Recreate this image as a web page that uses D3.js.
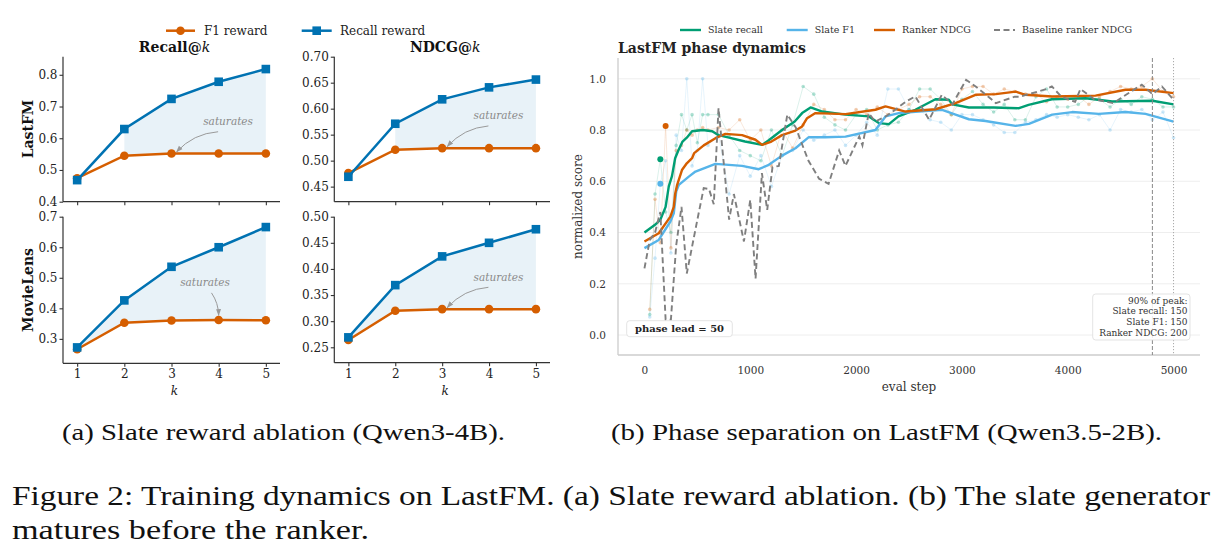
<!DOCTYPE html>
<html>
<head>
<meta charset="utf-8">
<script src="https://cdn.jsdelivr.net/npm/d3@7"></script>
<style>
  body { margin: 0; background: #fff; }
</style>
</head>
<body>
<div id="chart"></div>
<script>
// ---------- panel (a): slate reward ablation ----------
const ks = [1, 2, 3, 4, 5];
const lastfmRecallF1  = [0.474, 0.545, 0.552, 0.552, 0.552];
const lastfmRecallRec = [0.468, 0.629, 0.724, 0.778, 0.818];
const lastfmNdcgF1    = [0.476, 0.521, 0.524, 0.524, 0.524];
const lastfmNdcgRec   = [0.469, 0.571, 0.618, 0.641, 0.656];
const mlRecallF1      = [0.266, 0.353, 0.360, 0.362, 0.361];
const mlRecallRec     = [0.272, 0.426, 0.536, 0.600, 0.666];
const mlNdcgF1        = [0.264, 0.320, 0.323, 0.323, 0.323];
const mlNdcgRec       = [0.269, 0.369, 0.424, 0.450, 0.476];

// ---------- panel (b): phase dynamics ----------
const recallSteps  = [0, 100, 150, 200, 230, 260, 290, 320, 360, 400, 450, 550, 640, 700, 800, 950, 1112, 1175, 1300, 1420, 1490, 1570, 1680, 1900, 2120, 2215, 2310, 2400, 2560, 2750, 2876, 2910, 3066, 3300, 3540, 3630, 3850, 4170, 4420, 4800, 5000];
const recallSmooth = [0.40, 0.43, 0.45, 0.50, 0.58, 0.62, 0.69, 0.72, 0.755, 0.77, 0.795, 0.80, 0.795, 0.78, 0.77, 0.755, 0.742, 0.76, 0.80, 0.833, 0.866, 0.888, 0.872, 0.86, 0.853, 0.827, 0.823, 0.853, 0.879, 0.92, 0.918, 0.90, 0.888, 0.888, 0.885, 0.898, 0.92, 0.924, 0.911, 0.914, 0.90];
const f1Steps  = [0, 135, 245, 277, 300, 325, 419, 482, 671, 923, 1080, 1175, 1300, 1427, 1553, 1710, 1900, 2183, 2278, 2404, 2813, 2940, 3066, 3223, 3507, 3633, 3853, 4042, 4294, 4546, 4735, 5000];
const f1Smooth = [0.339, 0.371, 0.443, 0.475, 0.56, 0.586, 0.618, 0.638, 0.668, 0.66, 0.647, 0.664, 0.70, 0.729, 0.772, 0.772, 0.774, 0.80, 0.853, 0.866, 0.879, 0.86, 0.842, 0.835, 0.816, 0.824, 0.86, 0.87, 0.863, 0.87, 0.863, 0.833];
const rankerSteps  = [0, 135, 245, 277, 290, 309, 356, 400, 450, 470, 560, 671, 765, 923, 1049, 1112, 1200, 1300, 1427, 1490, 1537, 1616, 1900, 2183, 2278, 2467, 2750, 2940, 3129, 3320, 3507, 3601, 3853, 4263, 4546, 4735, 5000];
const rankerSmooth = [0.365, 0.397, 0.462, 0.50, 0.55, 0.586, 0.645, 0.67, 0.69, 0.71, 0.74, 0.768, 0.785, 0.78, 0.762, 0.742, 0.755, 0.78, 0.798, 0.814, 0.846, 0.866, 0.862, 0.879, 0.892, 0.872, 0.881, 0.905, 0.9375, 0.94, 0.95, 0.9375, 0.931, 0.934, 0.957, 0.957, 0.944];
const baseSteps  = [0, 50, 100, 150, 200, 250, 300, 350, 400, 500, 560, 610, 655, 700, 800, 845, 940, 1000, 1050, 1110, 1160, 1210, 1270, 1350, 1430, 1475, 1550, 1650, 1740, 1840, 1900, 2030, 2060, 2120, 2180, 2280, 2370, 2470, 2560, 2690, 2810, 2910, 3040, 3130, 3250, 3320, 3500, 3550, 3800, 3850, 3940, 4070, 4120, 4250, 4430, 4700, 4800, 4890, 5000];
const baseValues = [0.26, 0.37, 0.40, 0.48, 0.06, 0.06, 0.35, 0.50, 0.24, 0.45, 0.573, 0.57, 0.51, 0.885, 0.45, 0.55, 0.365, 0.527, 0.22, 0.632, 0.488, 0.655, 0.66, 0.86, 0.81, 0.76, 0.68, 0.61, 0.59, 0.72, 0.66, 0.775, 0.74, 0.866, 0.833, 0.853, 0.879, 0.911, 0.931, 0.84, 0.9375, 0.90, 0.996, 0.97, 0.93, 0.905, 0.93, 0.93, 0.96, 0.97, 0.93, 0.91, 0.96, 0.92, 0.905, 0.977, 0.94, 0.97, 0.918];

// raw eval points (faint)
const rawSteps = [50, 100, 150, 200, 250, 300, 350, 400, 450, 500, 550, 600, 700, 800, 900, 1000, 1100, 1200, 1300, 1400, 1500, 1600, 1700, 1800, 1900, 2000, 2100, 2200, 2300, 2400, 2500, 2600, 2700, 2800, 2900, 3000, 3100, 3200, 3300, 3400, 3500, 3600, 3700, 3800, 3900, 4000, 4100, 4200, 4300, 4400, 4500, 4600, 4700, 4800, 4900, 5000];
const recallRaw = [0.08, 0.55, 0.686, 0.48, 0.40, 0.74, 0.86, 0.80, 0.86, 0.75, 0.86, 0.86,
  0.86, 0.78, 0.72, 0.70, 0.68, 0.80, 0.70, 0.82, 0.97, 0.94, 0.85, 0.82, 0.80, 0.86, 0.88, 0.80, 0.82, 0.83, 0.88, 0.96, 0.96, 0.92, 0.86, 0.92, 0.95, 0.90, 0.87, 0.90, 0.84, 0.84, 0.93, 0.96, 0.89, 0.89, 0.90, 0.93, 0.92, 0.89, 0.92, 0.90, 0.93, 0.92, 0.89, 0.89];
const f1Raw = [0.07, 0.30, 0.59, 0.68, 0.32, 0.78, 0.72, 1.00, 0.66, 0.72, 1.00, 0.74,
  0.78, 0.55, 0.70, 0.62, 0.70, 0.58, 0.70, 0.72, 0.80, 0.76, 0.78, 0.80, 0.74, 0.78, 0.83, 0.78, 0.96, 0.96, 0.88, 0.88, 0.84, 0.83, 0.80, 0.86, 0.86, 0.84, 0.82, 0.79, 0.79, 0.83, 0.84, 0.86, 0.85, 0.86, 0.85, 0.84, 0.86, 0.80, 0.88, 0.87, 0.88, 0.84, 0.87, 0.77];
const rankerRaw = [0.10, 0.53, 0.36, 0.816, 0.34, 0.72, 0.74, 0.80, 0.78, 0.80, 0.81, 0.80,
  0.81, 0.80, 0.84, 0.76, 0.80, 0.66, 0.80, 0.73, 0.82, 0.90, 0.88, 0.84, 0.84, 0.88, 0.86, 0.89, 0.86, 0.88, 0.90, 0.93, 0.93, 0.90, 0.86, 0.96, 0.97, 0.97, 0.94, 0.96, 0.95, 0.94, 0.94, 0.91, 0.93, 0.92, 0.93, 0.90, 0.93, 0.95, 0.97, 0.96, 0.97, 1.00, 0.95, 0.93];

// step at which each curve first reaches 90% of its peak
const peakNames = ["Slate recall", "Slate F1", "Ranker NDCG"];
const peakSteps = [150, 150, 200];
const markerLines = [4800, 5000];

const ORANGE = "#D55E00", BLUE = "#0072B2", GREEN = "#009E73", SKY = "#56B4E9", GREY = "#7f7f7f";
const SERIF = "'DejaVu Serif', serif";

var width = 1223, height = 559;

var svg = d3.select("#chart").append("svg")
  .attr("width", width)
  .attr("height", height)
  .style("font-family", SERIF);

svg.append("rect")
  .attr("width", width)
  .attr("height", height)
  .attr("fill", "#ffffff");

var defs = svg.append("defs");
defs.append("marker")
  .attr("id", "arrow")
  .attr("viewBox", "0 0 10 10")
  .attr("refX", 9).attr("refY", 5)
  .attr("markerWidth", 7).attr("markerHeight", 7)
  .attr("orient", "auto")
  .append("path")
  .attr("d", "M0,1.5 L10,5 L0,8.5 z")
  .attr("fill", "#9a9a9a");

// ---------- (a) four small panels ----------
var panels = [
  { left: 63, right: 280, top: 56.7, bottom: 201.7, dom: [0.4, 0.857], ticks: [0.4, 0.5, 0.6, 0.7, 0.8], fmt: ".1f",
    f1: lastfmRecallF1, rec: lastfmRecallRec, title: "Recall", xlabels: false, note: [4.2, 0.652], noteK: 3, side: true },
  { left: 334.3, right: 550, top: 56.7, bottom: 201.7, dom: [0.421, 0.70], ticks: [0.45, 0.5, 0.55, 0.6, 0.65, 0.7], fmt: ".2f",
    f1: lastfmNdcgF1, rec: lastfmNdcgRec, title: "NDCG", xlabels: false, note: [4.2, 0.586], noteK: 3, side: true },
  { left: 63, right: 280, top: 216.7, bottom: 363.3, dom: [0.22, 0.70], ticks: [0.3, 0.4, 0.5, 0.6, 0.7], fmt: ".1f",
    f1: mlRecallF1, rec: mlRecallRec, title: null, xlabels: true, note: [3.71, 0.485], noteK: 4, side: false },
  { left: 334.3, right: 550, top: 216.7, bottom: 362.7, dom: [0.2205, 0.50], ticks: [0.25, 0.3, 0.35, 0.4, 0.45, 0.5], fmt: ".2f",
    f1: mlNdcgF1, rec: mlNdcgRec, title: null, xlabels: true, note: [4.2, 0.384], noteK: 3, side: true }
];

panels.forEach(function(p) {
  var x = d3.scaleLinear().domain([0.7, 5.3]).range([p.left, p.right]);
  var y = d3.scaleLinear().domain(p.dom).range([p.bottom, p.top]);
  var g = svg.append("g");

  // shaded gap where recall reward beats F1 reward
  var area = d3.area()
    .defined(function(d, i) { return p.rec[i] >= p.f1[i]; })
    .x(function(d) { return x(d); })
    .y0(function(d, i) { return y(p.f1[i]); })
    .y1(function(d, i) { return y(p.rec[i]); });
  g.append("path")
    .attr("d", area(ks))
    .attr("fill", BLUE)
    .attr("fill-opacity", 0.09);

  var yAxis = d3.axisLeft(y).tickValues(p.ticks).tickFormat(d3.format(p.fmt)).tickSize(3.5).tickPadding(2);
  var xAxis = d3.axisBottom(x).tickValues(ks).tickFormat(p.xlabels ? d3.format("d") : "").tickSize(3.5).tickPadding(3);

  var ya = g.append("g").attr("transform", "translate(" + p.left + ",0)").call(yAxis);
  var xa = g.append("g").attr("transform", "translate(0," + p.bottom + ")").call(xAxis);
  [ya, xa].forEach(function(a) {
    a.select(".domain").attr("stroke", "#333").attr("stroke-width", 1.2);
    a.selectAll(".tick line").attr("stroke", "#333").attr("stroke-width", 1.1);
    a.selectAll(".tick text").attr("fill", "#222").style("font-size", "12px").style("font-family", SERIF);
  });
  // trim the outer tick stubs of the domain path
  ya.select(".domain").attr("d", "M0," + p.bottom + "V" + p.top);
  xa.select(".domain").attr("d", "M" + p.left + ",0H" + p.right);

  var line = d3.line().x(function(d) { return x(d); });

  g.append("path")
    .attr("d", line.y(function(d, i) { return y(p.f1[i]); })(ks))
    .attr("fill", "none").attr("stroke", ORANGE).attr("stroke-width", 2.5);
  g.selectAll(".dot").data(ks).enter().append("circle")
    .attr("cx", function(d) { return x(d); })
    .attr("cy", function(d, i) { return y(p.f1[i]); })
    .attr("r", 4.3).attr("fill", ORANGE);

  g.append("path")
    .attr("d", line.y(function(d, i) { return y(p.rec[i]); })(ks))
    .attr("fill", "none").attr("stroke", BLUE).attr("stroke-width", 2.5);
  g.selectAll(".sq").data(ks).enter().append("rect")
    .attr("x", function(d) { return x(d) - 4.3; })
    .attr("y", function(d, i) { return y(p.rec[i]) - 4.3; })
    .attr("width", 8.6).attr("height", 8.6).attr("fill", BLUE);

  // "saturates" note with curved arrow to the F1 point
  var tx = x(p.note[0]), ty = y(p.note[1]);
  g.append("text")
    .attr("x", tx).attr("y", ty + 3.5)
    .attr("text-anchor", "middle")
    .attr("font-style", "italic")
    .attr("font-size", 10.5)
    .attr("fill", "#8a8a8a")
    .text("saturates");
  var ki = ks.indexOf(p.noteK);
  var px = x(p.noteK), py = y(p.f1[ki]);
  var sx, sy, ex, ey;
  if (p.side) { sx = tx - 10; sy = ty + 10; ex = px + 5; ey = py - 1.5; }
  else { sx = tx + 6.5; sy = ty + 10.5; ex = px; ey = py - 4.5; }
  var mx = (sx + ex) / 2, my = (sy + ey) / 2;
  var dx = ex - sx, dy = ey - sy;
  var rad = p.side ? 0.2 : -0.15;
  g.append("path")
    .attr("d", "M" + sx + "," + sy + "Q" + (mx - dy * rad) + "," + (my + dx * rad) + " " + ex + "," + ey)
    .attr("fill", "none")
    .attr("stroke", "#9a9a9a")
    .attr("stroke-width", 1)
    .attr("marker-end", "url(#arrow)");

  if (p.title) {
    var t = g.append("text")
      .attr("x", (p.left + p.right) / 2 + 3).attr("y", 52)
      .attr("text-anchor", "middle")
      .attr("font-size", 14)
      .attr("fill", "#111");
    t.append("tspan").attr("font-weight", "bold").text(p.title + "@");
    t.append("tspan").attr("font-style", "italic").text("k");
  }
  if (p.xlabels) {
    g.append("text")
      .attr("x", (p.left + p.right) / 2 + 3).attr("y", 395)
      .attr("text-anchor", "middle")
      .attr("font-style", "italic")
      .attr("font-size", 12)
      .attr("fill", "#222")
      .text("k");
  }
});

// row labels
[["LastFM", 129], ["MovieLens", 290]].forEach(function(r) {
  svg.append("text")
    .attr("transform", "translate(33," + r[1] + ") rotate(-90)")
    .attr("text-anchor", "middle")
    .attr("font-weight", "bold")
    .attr("font-size", 14)
    .attr("fill", "#111")
    .text(r[0]);
});

// legend (a)
var legA = svg.append("g");
legA.append("line").attr("x1", 166).attr("x2", 195).attr("y1", 30.7).attr("y2", 30.7).attr("stroke", ORANGE).attr("stroke-width", 2.5);
legA.append("circle").attr("cx", 180.5).attr("cy", 30.7).attr("r", 4.3).attr("fill", ORANGE);
legA.append("text").attr("x", 204).attr("y", 35).attr("font-size", 12).attr("fill", "#222").text("F1 reward");
legA.append("line").attr("x1", 301.7).attr("x2", 331.7).attr("y1", 30.7).attr("y2", 30.7).attr("stroke", BLUE).attr("stroke-width", 2.5);
legA.append("rect").attr("x", 312.4).attr("y", 26.4).attr("width", 8.6).attr("height", 8.6).attr("fill", BLUE);
legA.append("text").attr("x", 340).attr("y", 35).attr("font-size", 12).attr("fill", "#222").text("Recall reward");

// ---------- (b) phase dynamics ----------
var L = 618, R = 1200, T = 58, B = 355;
var rx = d3.scaleLinear().domain([-250, 5250]).range([L, R]);
var ry = d3.scaleLinear().domain([-0.078, 1.081]).range([B, T]);
var gb = svg.append("g");

gb.selectAll(".grid").data([0, 0.2, 0.4, 0.6, 0.8, 1.0]).enter().append("line")
  .attr("x1", L).attr("x2", R)
  .attr("y1", function(d) { return ry(d); }).attr("y2", function(d) { return ry(d); })
  .attr("stroke", "#ececec").attr("stroke-width", 0.9);

var ryAxis = gb.append("g").attr("transform", "translate(" + L + ",0)")
  .call(d3.axisLeft(ry).tickValues([0, 0.2, 0.4, 0.6, 0.8, 1.0]).tickFormat(d3.format(".1f")).tickSize(0).tickPadding(12));
var rxAxis = gb.append("g").attr("transform", "translate(0," + B + ")")
  .call(d3.axisBottom(rx).tickValues([0, 1000, 2000, 3000, 4000, 5000]).tickFormat(d3.format("d")).tickSize(0).tickPadding(12));
[ryAxis, rxAxis].forEach(function(a) {
  a.select(".domain").attr("stroke", "#cccccc").attr("stroke-width", 1.3);
  a.selectAll(".tick text").attr("fill", "#333").style("font-size", "10.5px").style("font-family", SERIF);
});
ryAxis.select(".domain").attr("d", "M0," + B + "V" + T);
rxAxis.select(".domain").attr("d", "M" + L + ",0H" + R);

// raw evaluations
var rawSets = [[recallRaw, GREEN], [f1Raw, SKY], [rankerRaw, ORANGE]];
rawSets.forEach(function(s) {
  var line = d3.line()
    .x(function(d, i) { return rx(rawSteps[i]); })
    .y(function(d) { return ry(d); });
  gb.append("path").attr("d", line(s[0]))
    .attr("fill", "none").attr("stroke", s[1]).attr("stroke-opacity", 0.18).attr("stroke-width", 0.8);
  gb.append("g").selectAll("circle").data(s[0]).enter().append("circle")
    .attr("cx", function(d, i) { return rx(rawSteps[i]); })
    .attr("cy", function(d) { return ry(d); })
    .attr("r", 1.8)
    .attr("fill", s[1]).attr("fill-opacity", 0.3);
});

// smoothed curves
var smoothSets = [[recallSteps, recallSmooth, GREEN], [f1Steps, f1Smooth, SKY], [rankerSteps, rankerSmooth, ORANGE]];
smoothSets.forEach(function(s) {
  var line = d3.line()
    .x(function(d, i) { return rx(s[0][i]); })
    .y(function(d) { return ry(d); });
  gb.append("path").attr("d", line(s[1]))
    .attr("fill", "none").attr("stroke", s[2]).attr("stroke-width", 2.4)
    .attr("stroke-linejoin", "round");
});

var baseLine = d3.line()
  .x(function(d, i) { return rx(baseSteps[i]); })
  .y(function(d) { return ry(d); });
gb.append("path").attr("d", baseLine(baseValues))
  .attr("fill", "none").attr("stroke", GREY).attr("stroke-width", 1.9)
  .attr("stroke-dasharray", "6,3.5");

// 90%-of-peak markers
var rawBySeries = [recallRaw, f1Raw, rankerRaw];
var markColors = [GREEN, SKY, ORANGE];
peakSteps.forEach(function(st, i) {
  var v = rawBySeries[i][rawSteps.indexOf(st)];
  gb.append("circle").attr("cx", rx(st)).attr("cy", ry(v)).attr("r", 3).attr("fill", markColors[i]);
});

// reference verticals
gb.append("line").attr("x1", rx(markerLines[0])).attr("x2", rx(markerLines[0])).attr("y1", T).attr("y2", B)
  .attr("stroke", "#888").attr("stroke-width", 1).attr("stroke-dasharray", "4,2");
gb.append("line").attr("x1", rx(markerLines[1])).attr("x2", rx(markerLines[1])).attr("y1", T).attr("y2", B)
  .attr("stroke", "#aaa").attr("stroke-width", 1).attr("stroke-dasharray", "1.2,1.8");

// phase lead box
var lead = peakSteps[2] - peakSteps[0];
gb.append("rect").attr("x", L + 8.7).attr("y", B - 34.3).attr("width", 105.6).attr("height", 16)
  .attr("rx", 3).attr("fill", "#fff").attr("stroke", "#dcdcdc").attr("stroke-width", 0.8);
gb.append("text").attr("x", L + 61.5).attr("y", B - 22.6)
  .attr("text-anchor", "middle").attr("font-weight", "bold").attr("font-size", 10).attr("fill", "#222")
  .text("phase lead = " + lead);

// 90% of peak box
var boxLines = ["90% of peak:"].concat(peakNames.map(function(n, i) { return n + ": " + peakSteps[i]; }));
gb.append("rect").attr("x", 1092.7).attr("y", 294).attr("width", 97.3).attr("height", 46)
  .attr("rx", 3).attr("fill", "#fff").attr("fill-opacity", 0.85).attr("stroke", "#dcdcdc").attr("stroke-width", 0.8);
gb.selectAll(".boxline").data(boxLines).enter().append("text")
  .attr("x", 1187.5)
  .attr("y", function(d, i) { return 303.5 + i * 10.9; })
  .attr("text-anchor", "end").attr("font-size", 9).attr("fill", "#333")
  .text(function(d) { return d; });

// title & axis labels
gb.append("text").attr("x", L).attr("y", 53).attr("font-weight", "bold").attr("font-size", 14).attr("fill", "#222")
  .text("LastFM phase dynamics");
gb.append("text").attr("x", (L + R) / 2).attr("y", 391).attr("text-anchor", "middle").attr("font-size", 12).attr("fill", "#333")
  .text("eval step");
gb.append("text").attr("transform", "translate(582," + ((T + B) / 2) + ") rotate(-90)")
  .attr("text-anchor", "middle").attr("font-size", 12).attr("fill", "#333")
  .text("normalized score");

// legend (b)
var legB = [
  { name: "Slate recall", color: GREEN, x: 680, dash: null },
  { name: "Slate F1", color: SKY, x: 786.7, dash: null },
  { name: "Ranker NDCG", color: ORANGE, x: 874, dash: null },
  { name: "Baseline ranker NDCG", color: GREY, x: 994, dash: "6,3.5" }
];
legB.forEach(function(d) {
  var ln = svg.append("line").attr("x1", d.x).attr("x2", d.x + 21).attr("y1", 30).attr("y2", 30)
    .attr("stroke", d.color).attr("stroke-width", 2.4);
  if (d.dash) ln.attr("stroke-dasharray", d.dash).attr("stroke-width", 1.9);
  svg.append("text").attr("x", d.x + 28).attr("y", 33.3).attr("font-size", 9.5).attr("fill", "#333").text(d.name);
});

// ---------- captions ----------
var CAP = "'Liberation Serif', 'Times New Roman', serif";
function cap(txt, x, y, size, len) {
  svg.append("text").attr("x", x).attr("y", y)
    .attr("font-family", CAP).attr("font-size", size).attr("fill", "#111")
    .attr("textLength", len).attr("lengthAdjust", "spacingAndGlyphs")
    .text(txt);
}
cap("(a) Slate reward ablation (Qwen3-4B).", 62, 440, 24, 443);
cap("(b) Phase separation on LastFM (Qwen3.5-2B).", 611, 440, 24, 551);
cap("Figure 2: Training dynamics on LastFM. (a) Slate reward ablation. (b) The slate generator", 12, 505, 28, 1198);
cap("matures before the ranker.", 12, 539, 28, 357);
</script>
</body>
</html>
